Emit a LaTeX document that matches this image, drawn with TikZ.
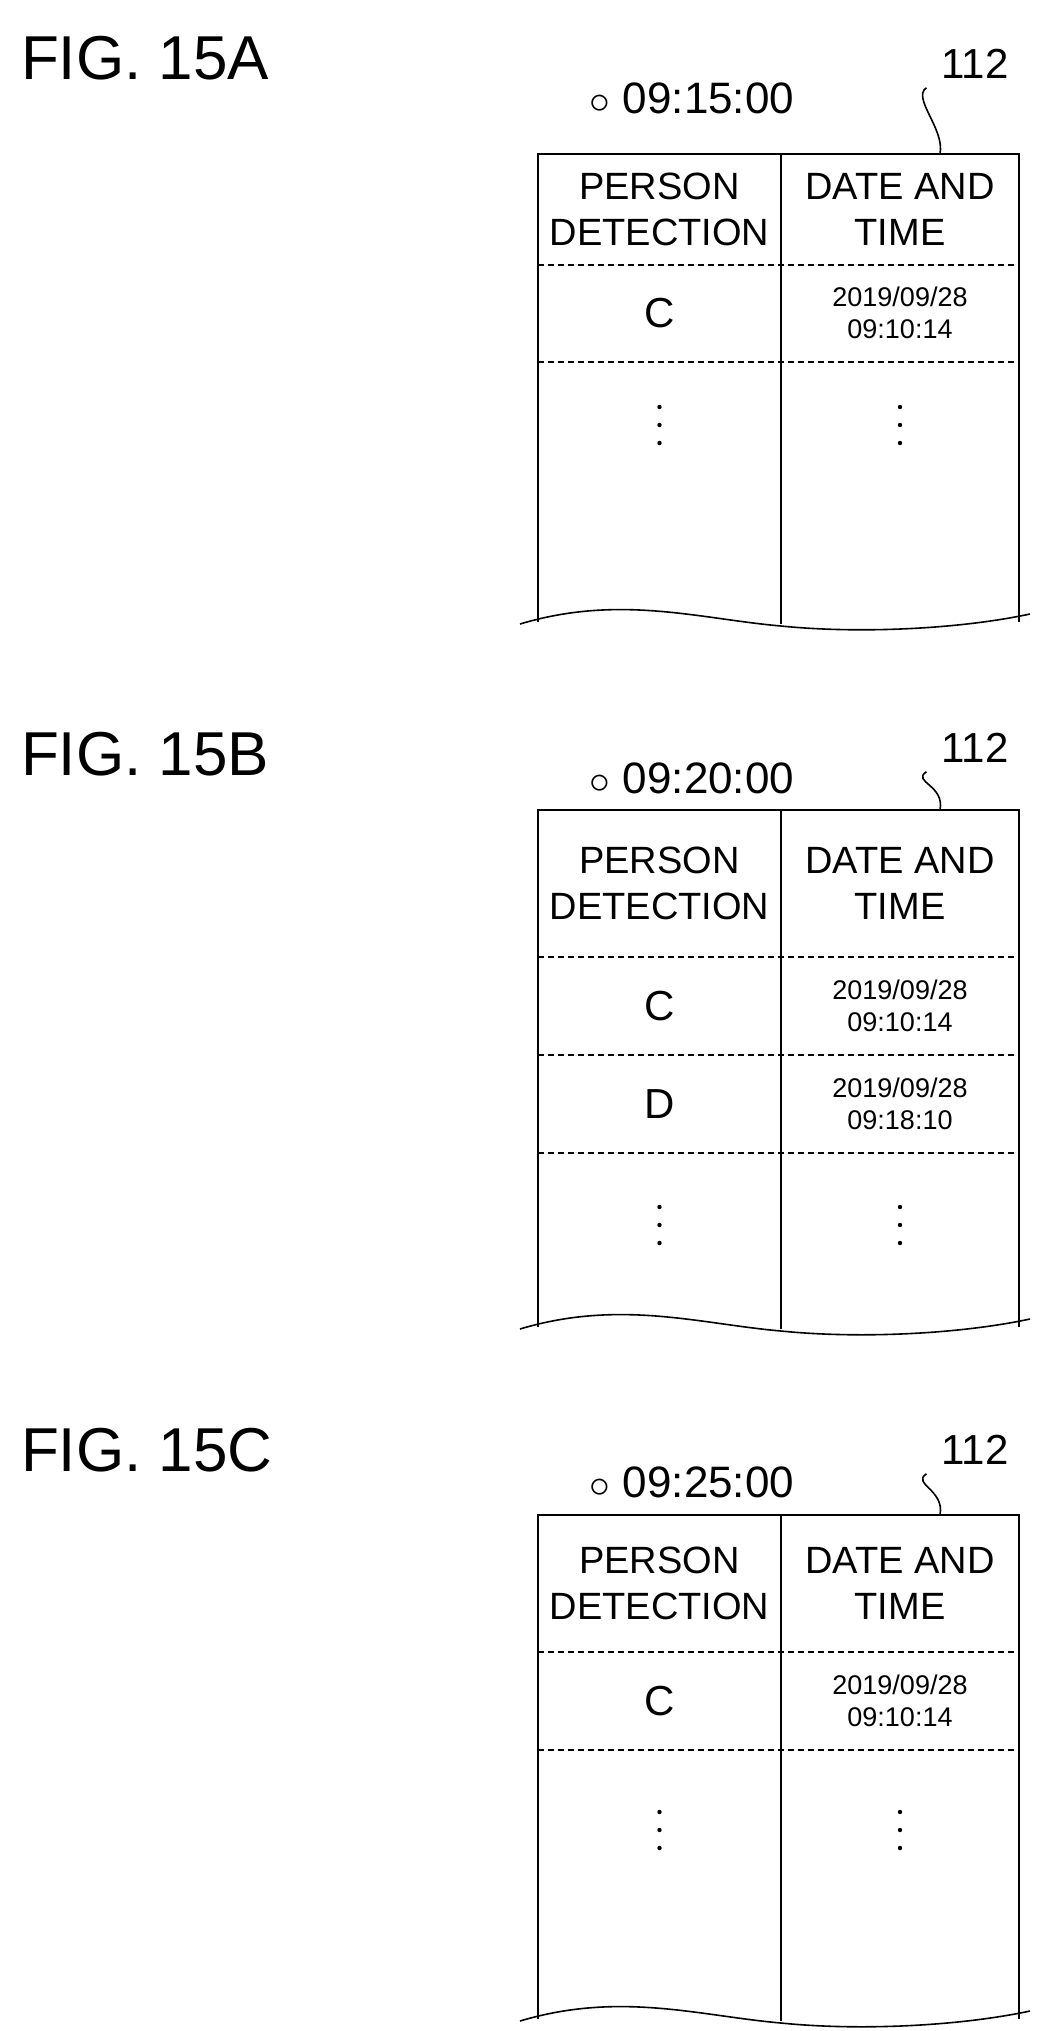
\documentclass[tikz,border=0pt]{standalone}
\usepackage{fontspec}
\setmainfont{Liberation Sans}
\usetikzlibrary{positioning}
\tikzset{
  figlabel/.style={anchor=west, font=\fontsize{31}{31}\selectfont},
  timelabel/.style={font=\fontsize{22}{22}\selectfont},
  reflabel/.style={font=\fontsize{21}{21}\selectfont},
  headtext/.style={align=center, font=\fontsize{19}{23}\selectfont},
  celltext/.style={font=\fontsize{21}{21}\selectfont},
  datetext/.style={align=center, font=\fontsize{13.5}{16}\selectfont},
  frame/.style={line width=1.4pt},
  rowline/.style={densely dashed, line width=0.8pt},
}
% one panel: #1 top, #2 header bottom, #3 bottom, #4 name
\newcommand{\tablepanel}[4]{
  \draw[frame] (538,#3+8) -- (538,#1) -- (1019,#1) -- (1019,#3+8);
  \draw[frame] (781,#1) -- (781,#3+10);
  \draw[rowline] (538,#2) -- (1019,#2);
  \draw[line width=0.8pt] (520,#3+10) .. controls (620,#3-20) and (700,#3+5) .. (781,#3+12)
    .. controls (860,#3+20) and (960,#3+15) .. (1030,#3);
  \node[headtext] (#4p) at (659.5,{(#1+#2)/2}) {PERSON\\DETECTION};
  \node[headtext] (#4d) at (900,{(#1+#2)/2}) {DATE AND\\TIME};
  \coordinate (#4top) at (940,#1);
}
% vertical dots at #1 y
\newcommand{\vdotcells}[1]{
  \foreach \dx in {659.5,900}
    \foreach \dy in {-18,0,18}
      \fill (\dx,#1+\dy) circle (2.2);
}
\begin{document}
\begin{tikzpicture}[x=0.5pt, y=-0.5pt]
\useasboundingbox (0,0) rectangle (1045,2031);
% FIG. 15A
\node[figlabel] (figA) at (14,58) {FIG. 15A};
\node[timelabel] (timeA) at (692,98) {$\circ$ 09:15:00};
\node[reflabel] (refA) at (975,64) {112};
\tablepanel{154}{265}{614}{A}
\draw[rowline] (538,362) -- (1019,362);
\node[celltext] (cA1) at (659.5,313) {C};
\node[datetext] (dA1) at (900,313) {2019/09/28\\09:10:14};
\vdotcells{425}
\draw[line width=0.8pt] (refA.south west) ++(-8,2) .. controls +(-15,10) and +(5,-25) .. (Atop);
% FIG. 15B
\node[figlabel] (figB) at (14,754) {FIG. 15B};
\node[timelabel] (timeB) at (692,778) {$\circ$ 09:20:00};
\node[reflabel] (refB) at (975,748) {112};
\tablepanel{810}{957}{1319}{B}
\draw[rowline] (538,1055) -- (1019,1055);
\draw[rowline] (538,1153) -- (1019,1153);
\node[celltext] (cB1) at (659.5,1006) {C};
\node[datetext] (dB1) at (900,1006) {2019/09/28\\09:10:14};
\node[celltext] (cB2) at (659.5,1104) {D};
\node[datetext] (dB2) at (900,1104) {2019/09/28\\09:18:10};
\vdotcells{1225}
\draw[line width=0.8pt] (refB.south west) ++(-8,2) .. controls +(-15,10) and +(5,-25) .. (Btop);
% FIG. 15C
\node[figlabel] (figC) at (14,1450) {FIG. 15C};
\node[timelabel] (timeC) at (692,1482) {$\circ$ 09:25:00};
\node[reflabel] (refC) at (975,1450) {112};
\tablepanel{1515}{1652}{2011}{C}
\draw[rowline] (538,1750) -- (1019,1750);
\node[celltext] (cC1) at (659.5,1701) {C};
\node[datetext] (dC1) at (900,1701) {2019/09/28\\09:10:14};
\vdotcells{1830}
\draw[line width=0.8pt] (refC.south west) ++(-8,2) .. controls +(-15,10) and +(5,-25) .. (Ctop);
\end{tikzpicture}
\end{document}
